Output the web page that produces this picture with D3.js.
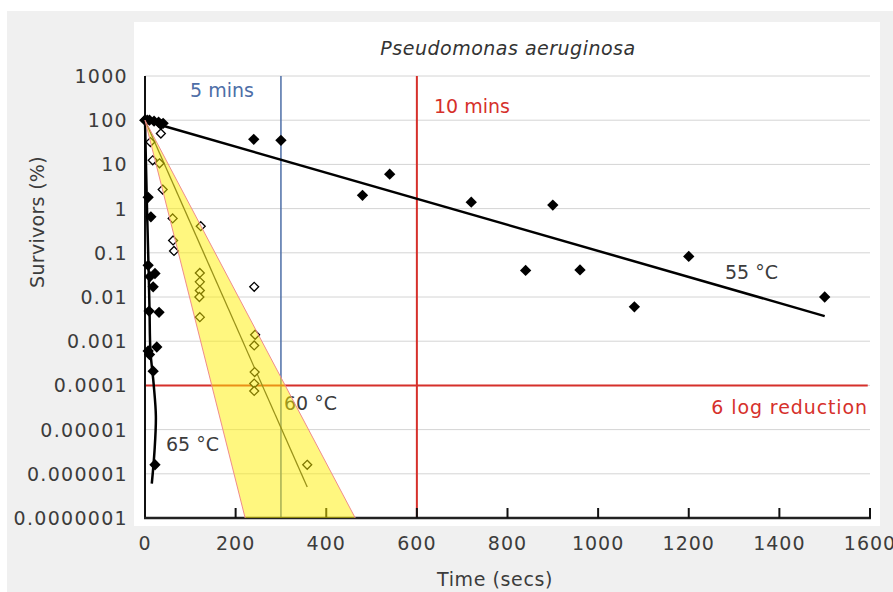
<!DOCTYPE html>
<html>
<head>
<meta charset="utf-8">
<script src="https://cdn.jsdelivr.net/npm/d3@7"></script>
<style>
  body { margin: 0; background: #fff; }
  svg { display: block; }
  text { font-family: "DejaVu Sans", sans-serif; }
</style>
</head>
<body>
<svg id="chart" width="893" height="592"></svg>
<script>
// Survivors of Pseudomonas aeruginosa at three temperatures (log scale)
let xTicks = [0, 200, 400, 600, 800, 1000, 1200, 1400, 1600];
let yTicks = [1000, 100, 10, 1, 0.1, 0.01, 0.001, 0.0001, 0.00001, 0.000001, 0.0000001];
let yTickLabels = ["1000", "100", "10", "1", "0.1", "0.01", "0.001", "0.0001", "0.00001", "0.000001", "0.0000001"];

// 55 °C (filled diamonds)
let t55 = [0, 10, 20, 30, 35, 40, 240, 300, 480, 540, 720, 840, 900, 960, 1080, 1200, 1500];
let s55 = [100, 100, 95, 90, 80, 85, 37, 35, 2, 6, 1.4, 0.04, 1.2, 0.041, 0.006, 0.083, 0.01];
let fit55 = [[30, 80], [1500, 0.0037]];

// 60 °C (open diamonds)
let t60 = [12, 35, 17, 32, 39, 61, 123, 62, 64, 121, 121, 121, 120, 241, 121, 243, 241, 242, 241, 241, 358];
let s60 = [32, 50, 12.4, 10.6, 2.7, 0.6, 0.4, 0.19, 0.11, 0.035, 0.022, 0.014, 0.01, 0.017, 0.0035, 0.0014, 0.0008, 0.0002, 0.00011, 0.000075, 0.0000016];
let fit60 = [[0, 100], [358, 0.0000005]];
let band60 = [[0, 100], [221, 0.0000001], [464, 0.0000001]];

// 65 °C (filled diamonds, near t = 0)
let t65 = [0, 5, 7, 13, 7, 22, 11, 18, 9, 31, 7, 26, 10, 18, 22];
let s65 = [100, 100, 1.8, 0.65, 0.052, 0.034, 0.029, 0.017, 0.0048, 0.0045, 0.0006, 0.00074, 0.0005, 0.00021, 0.0000016];
let fit65 = [[0, 100], [4, 1.5], [8, 0.04], [10, 0.005], [12, 0.0006], [19, 0.00011], [24, 0.00002], [21, 0.0000033], [15, 0.0000006]];

let fiveMins = 300, tenMins = 600, sixLog = 0.0001;

let svg = d3.select("#chart");
let labelColor = "#3c3c3c";
let red = "#d6302b", blue = "#4d6ea7";

let x = d3.scaleLinear().domain([0, 1600]).range([145, 870]);
let y = d3.scaleLog().domain([0.0000001, 1000]).range([518, 76]);

// square diamond used by Excel-like markers
let diamond = {
    draw(ctx, size) {
        let r = Math.sqrt(size / 2);
        ctx.moveTo(0, -r); ctx.lineTo(r, 0); ctx.lineTo(0, r); ctx.lineTo(-r, 0); ctx.closePath();
    }
};

// backgrounds
svg.append("rect").attr("x", 7).attr("y", 11).attr("width", 886).attr("height", 581).attr("fill", "#f0f0f0");
svg.append("rect").attr("x", 134).attr("y", 22).attr("width", 746).attr("height", 504).attr("fill", "#fff");

// gridlines
svg.append("g").selectAll("line").data(yTicks).enter().append("line")
    .attr("x1", x(0)).attr("x2", x(1600))
    .attr("y1", d => y(d)).attr("y2", d => y(d))
    .attr("stroke", "#d4d4d4").attr("stroke-width", 1);

// tick labels
svg.append("g").selectAll("text").data(yTicks).enter().append("text")
    .attr("x", 128).attr("y", d => y(d) + 7)
    .attr("text-anchor", "end").attr("font-size", 19).attr("letter-spacing", 1.3)
    .attr("fill", labelColor)
    .text((d, i) => yTickLabels[i]);

svg.append("g").selectAll("text").data(xTicks).enter().append("text")
    .attr("x", d => x(d)).attr("y", 550)
    .attr("text-anchor", "middle").attr("font-size", 19).attr("letter-spacing", 1)
    .attr("fill", labelColor)
    .text(d => d);

// axis titles
svg.append("text").attr("x", 495).attr("y", 586).attr("text-anchor", "middle")
    .attr("font-size", 19).attr("letter-spacing", 0.6).attr("fill", labelColor).text("Time (secs)");
svg.append("text").attr("transform", "translate(44,222) rotate(-90)").attr("text-anchor", "middle")
    .attr("font-size", 19).attr("letter-spacing", 0.3).attr("fill", labelColor).text("Survivors (%)");
svg.append("text").attr("x", 508).attr("y", 55).attr("text-anchor", "middle")
    .attr("font-size", 19).attr("font-style", "italic").attr("letter-spacing", 0.5).attr("fill", "#333").text("Pseudomonas aeruginosa");

// annotations
svg.append("text").attr("x", 190).attr("y", 97).attr("font-size", 19).attr("fill", blue).text("5 mins");
svg.append("text").attr("x", 434).attr("y", 113).attr("font-size", 19).attr("fill", red).text("10 mins");
svg.append("text").attr("x", 868).attr("y", 414).attr("text-anchor", "end").attr("font-size", 19).attr("letter-spacing", 0.9).attr("fill", red).text("6 log reduction");
svg.append("text").attr("x", 725).attr("y", 279).attr("font-size", 19).attr("fill", labelColor).text("55 °C");
svg.append("text").attr("x", 284).attr("y", 410).attr("font-size", 19).attr("fill", labelColor).text("60 °C");
svg.append("text").attr("x", 166).attr("y", 451).attr("font-size", 19).attr("fill", labelColor).text("65 °C");

// reference lines
svg.append("line").attr("x1", x(fiveMins)).attr("x2", x(fiveMins)).attr("y1", y(1000)).attr("y2", y(0.0000001))
    .attr("stroke", blue).attr("stroke-width", 1.5);
svg.append("line").attr("x1", x(tenMins)).attr("x2", x(tenMins)).attr("y1", y(1000)).attr("y2", y(0.0000001))
    .attr("stroke", red).attr("stroke-width", 2);
svg.append("line").attr("x1", x(0)).attr("x2", x(1595)).attr("y1", y(sixLog)).attr("y2", y(sixLog))
    .attr("stroke", red).attr("stroke-width", 2);

// axes
svg.append("line").attr("x1", x(0)).attr("x2", x(0)).attr("y1", y(1000)).attr("y2", y(0.0000001))
    .attr("stroke", "#111").attr("stroke-width", 2);
svg.append("line").attr("x1", x(0) - 1).attr("x2", x(1600) + 1).attr("y1", y(0.0000001)).attr("y2", y(0.0000001))
    .attr("stroke", "#222").attr("stroke-width", 2.5);
svg.append("g").selectAll("line").data(xTicks.slice(1)).enter().append("line")
    .attr("x1", d => x(d)).attr("x2", d => x(d))
    .attr("y1", y(0.0000001)).attr("y2", y(0.0000001) - 10)
    .attr("stroke", "#111").attr("stroke-width", 2);

let line = d3.line().x(d => x(d[0])).y(d => y(d[1]));

// fitted lines
svg.append("path").attr("d", line(fit55)).attr("fill", "none").attr("stroke", "#000").attr("stroke-width", 2.5);
svg.append("path").attr("d", line.curve(d3.curveCatmullRom)(fit65)).attr("fill", "none").attr("stroke", "#000").attr("stroke-width", 2.5);
line.curve(d3.curveLinear);
svg.append("path").attr("d", line(fit60)).attr("fill", "none").attr("stroke", "#333").attr("stroke-width", 1.3);

// markers
let filled = d3.symbol(diamond, 64);
let open = d3.symbol(diamond, 40);

svg.append("g").selectAll("path").data(t60).enter().append("path")
    .attr("transform", (d, i) => "translate(" + x(d) + "," + y(s60[i]) + ")")
    .attr("d", open).attr("fill", "#fff").attr("stroke", "#000").attr("stroke-width", 1.3);

svg.append("g").selectAll("path").data(t55).enter().append("path")
    .attr("transform", (d, i) => "translate(" + x(d) + "," + y(s55[i]) + ")")
    .attr("d", filled).attr("fill", "#000");

svg.append("g").selectAll("path").data(t65).enter().append("path")
    .attr("transform", (d, i) => "translate(" + x(d) + "," + y(s65[i]) + ")")
    .attr("d", filled).attr("fill", "#000");

// 60 °C confidence band, semi-transparent on top
svg.append("path").attr("d", line(band60) + "Z")
    .attr("fill", "rgb(255,240,0)").attr("fill-opacity", 0.5);
svg.append("path").attr("d", line([band60[1], band60[0], band60[2]]))
    .attr("fill", "none").attr("stroke", "#f08c8c").attr("stroke-width", 1);
</script>
</body>
</html>
